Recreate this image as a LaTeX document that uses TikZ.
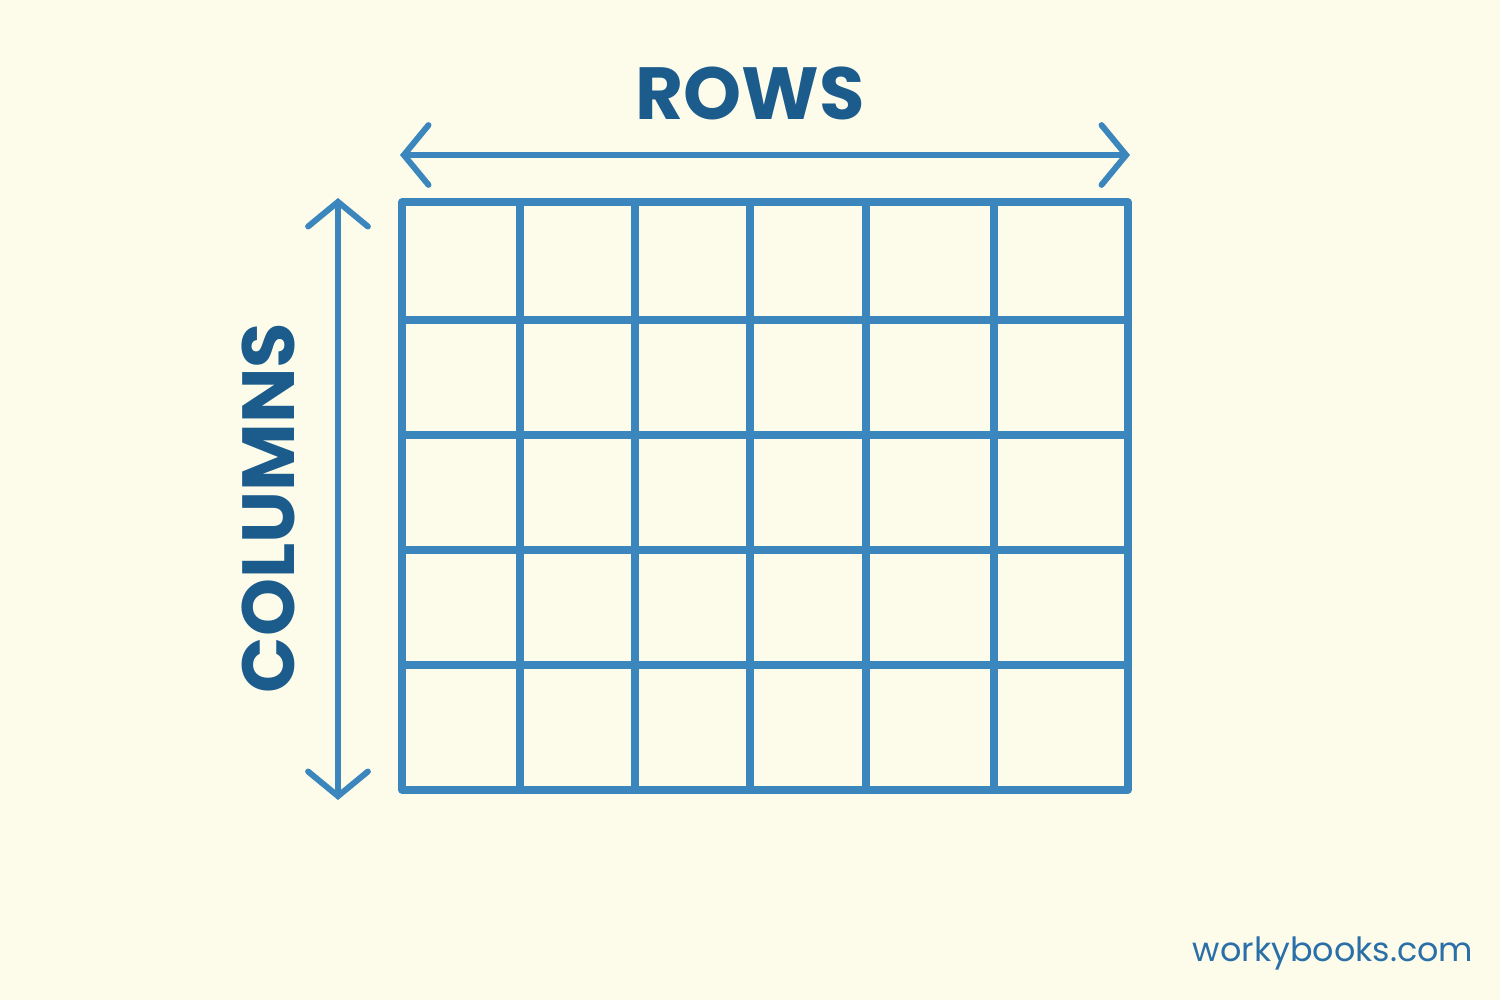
\documentclass[tikz,border=0pt]{standalone}
\usepackage{fontspec}
\setsansfont{Poppins}
\usetikzlibrary{arrows.meta}
\definecolor{paper}{HTML}{FDFCEA}
\definecolor{gridblue}{HTML}{3A86BD}
\definecolor{labelblue}{HTML}{1B5C8C}
\definecolor{markblue}{HTML}{2A6FA8}
\begin{document}
\begin{tikzpicture}[x=0.01cm,y=-0.01cm,
  gridline/.style={draw=gridblue,line width=2pt,line cap=round,line join=round},
  dimarrow/.style={gridblue,line width=1.7pt,{Straight Barb[length=7pt,width=17pt,line cap=round]}-{Straight Barb[length=7pt,width=17pt,line cap=round]}},
  biglabel/.style={font=\sffamily\bfseries\fontsize{21}{25}\selectfont,text=labelblue}]
   \fill[paper] (0,0) rectangle (1500,1000);
   \useasboundingbox (0,0) rectangle (1500,1000);
   % grid
   \foreach \x in {520,635,750,866,994} \draw[gridline] (\x,202) -- (\x,790);
   \foreach \y in {320,435,550,665} \draw[gridline] (402,\y) -- (1128,\y);
   \draw[gridline] (402,202) rectangle (1128,790);
   % arrows
   \coordinate (rl) at (400,155);
   \coordinate (rr) at (1130,155);
   \coordinate (ct) at (338,198);
   \coordinate (cb) at (338,800);
   \draw[dimarrow] (rl) -- (rr);
   \draw[dimarrow] (ct) -- (cb);
   % labels
   \node[biglabel] (rows) at (750,93) {ROWS};
   \node[biglabel,rotate=90] (cols) at (268,508) {COLUMNS};
   \node[font=\sffamily\fontsize{9.5}{12}\selectfont,text=markblue] (site) at (1333,953) {workybooks.com};
\end{tikzpicture}
\end{document}
